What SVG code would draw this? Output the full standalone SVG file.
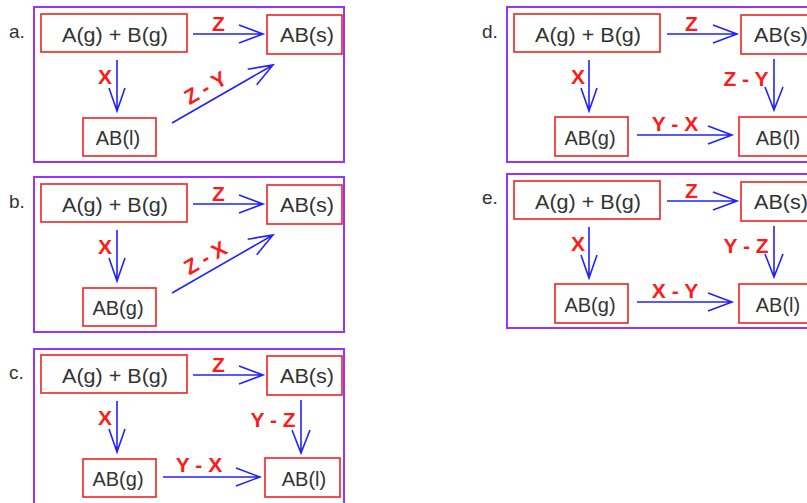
<svg xmlns="http://www.w3.org/2000/svg" width="807" height="503" viewBox="0 0 807 503">
<defs>
<style>
.frame{fill:none;stroke:#9933ff;stroke-width:2}
.box{fill:#fff;stroke:#ee2222;stroke-width:1.6}
.t{font-family:"Liberation Sans",Arial,sans-serif;font-size:20px;fill:#333;text-anchor:middle}
.pl{font-family:"Liberation Sans",Arial,sans-serif;font-size:19px;fill:#333}
.lbl{font-family:"Liberation Sans",Arial,sans-serif;font-size:21px;font-weight:bold;fill:#ff1a1a;text-anchor:middle}
.ar{fill:none;stroke:#2222ff;stroke-width:1.6;stroke-linejoin:miter}
</style>
</defs>
<rect width="807" height="503" fill="#fff"/>

<!-- Panel a -->
<g id="panel-a">
<rect class="frame" x="34" y="7" width="310" height="155"/>
<text class="pl" x="9" y="38">a.</text>
<g id="a-reactants"><rect class="box" x="41" y="14" width="146" height="38"/><text class="t" x="115" y="42" textLength="106" lengthAdjust="spacingAndGlyphs">A(g) + B(g)</text></g>
<g id="a-ABs"><rect class="box" x="267" y="15" width="75" height="39"/><text class="t" x="307" y="42" textLength="54" lengthAdjust="spacingAndGlyphs">AB(s)</text></g>
<g id="a-ABl"><rect class="box" x="83" y="118" width="73" height="38"/><text class="t" x="118" y="145">AB(l)</text></g>
<g id="a-connectors">
<path class="ar" d="M193,34H263M239,25L263,34L239,43"/>
<text class="lbl" x="218.5" y="31">Z</text>
<path class="ar" d="M117,60V111M109,88L117,111L125,88"/>
<text class="lbl" x="105" y="84">X</text>
<path class="ar" d="M172,123L273,65M256.7,84.8L273,65L247.7,69.2"/>
<text class="lbl" transform="translate(209,94) rotate(-30)">Z - Y</text>
</g>
</g>

<!-- Panel b -->
<g id="panel-b" transform="translate(0,170)">
<rect class="frame" x="34" y="7" width="310" height="155"/>
<text class="pl" x="9" y="38">b.</text>
<g id="b-reactants"><rect class="box" x="41" y="14" width="146" height="38"/><text class="t" x="115" y="42" textLength="106" lengthAdjust="spacingAndGlyphs">A(g) + B(g)</text></g>
<g id="b-ABs"><rect class="box" x="267" y="15" width="75" height="39"/><text class="t" x="307" y="42" textLength="54" lengthAdjust="spacingAndGlyphs">AB(s)</text></g>
<g id="b-ABg"><rect class="box" x="83" y="118" width="73" height="38"/><text class="t" x="118" y="145">AB(g)</text></g>
<g id="b-connectors">
<path class="ar" d="M193,34H263M239,25L263,34L239,43"/>
<text class="lbl" x="218.5" y="31">Z</text>
<path class="ar" d="M117,60V111M109,88L117,111L125,88"/>
<text class="lbl" x="105" y="84">X</text>
<path class="ar" d="M172,123L273,65M256.7,84.8L273,65L247.7,69.2"/>
<text class="lbl" transform="translate(209,94) rotate(-30)">Z - X</text>
</g>
</g>

<!-- Panel c -->
<g id="panel-c" transform="translate(0,341)">
<rect class="frame" x="34" y="8" width="310" height="160"/>
<text class="pl" x="9" y="38">c.</text>
<g id="c-reactants"><rect class="box" x="41" y="14" width="146" height="38"/><text class="t" x="115" y="42" textLength="106" lengthAdjust="spacingAndGlyphs">A(g) + B(g)</text></g>
<g id="c-ABs"><rect class="box" x="267" y="15" width="75" height="39"/><text class="t" x="307" y="42" textLength="54" lengthAdjust="spacingAndGlyphs">AB(s)</text></g>
<g id="c-ABg"><rect class="box" x="83" y="118" width="73" height="38"/><text class="t" x="118" y="145">AB(g)</text></g>
<g id="c-ABl"><rect class="box" x="265" y="117" width="75" height="39"/><text class="t" x="304" y="145">AB(l)</text></g>
<g id="c-connectors">
<path class="ar" d="M193,34H263M239,25L263,34L239,43"/>
<text class="lbl" x="218.5" y="31">Z</text>
<path class="ar" d="M117,60V111M109,88L117,111L125,88"/>
<text class="lbl" x="105" y="84">X</text>
<path class="ar" d="M301,59V112M292,89L301,112L310,89"/>
<text class="lbl" x="273" y="86">Y - Z</text>
<path class="ar" d="M163,136H260M236,127L260,136L236,145"/>
<text class="lbl" x="199" y="131">Y - X</text>
</g>
</g>

<!-- Panel d -->
<g id="panel-d" transform="translate(473,0)">
<rect class="frame" x="34" y="7" width="340" height="155"/>
<text class="pl" x="9" y="38">d.</text>
<g id="d-reactants"><rect class="box" x="41" y="14" width="146" height="38"/><text class="t" x="115" y="42" textLength="106" lengthAdjust="spacingAndGlyphs">A(g) + B(g)</text></g>
<g id="d-ABs"><rect class="box" x="268" y="15" width="75" height="39"/><text class="t" x="308" y="42" textLength="54" lengthAdjust="spacingAndGlyphs">AB(s)</text></g>
<g id="d-ABg"><rect class="box" x="82" y="117" width="73" height="39"/><text class="t" x="117" y="145">AB(g)</text></g>
<g id="d-ABl"><rect class="box" x="266" y="117" width="75" height="39"/><text class="t" x="305" y="145">AB(l)</text></g>
<g id="d-connectors">
<path class="ar" d="M194,34H264M240,25L264,34L240,43"/>
<text class="lbl" x="218.5" y="31">Z</text>
<path class="ar" d="M116,60V111M108,88L116,111L124,88"/>
<text class="lbl" x="105" y="84">X</text>
<path class="ar" d="M301,59V110M292,87L301,110L310,87"/>
<text class="lbl" x="273" y="86">Z - Y</text>
<path class="ar" d="M164,135H259M235,126L259,135L235,144"/>
<text class="lbl" x="202" y="131">Y - X</text>
</g>
</g>

<!-- Panel e -->
<g id="panel-e" transform="translate(473,167)">
<rect class="frame" x="34" y="7" width="340" height="154"/>
<text class="pl" x="9" y="37">e.</text>
<g id="e-reactants"><rect class="box" x="41" y="14" width="146" height="38"/><text class="t" x="115" y="42" textLength="106" lengthAdjust="spacingAndGlyphs">A(g) + B(g)</text></g>
<g id="e-ABs"><rect class="box" x="268" y="15" width="75" height="39"/><text class="t" x="308" y="42" textLength="54" lengthAdjust="spacingAndGlyphs">AB(s)</text></g>
<g id="e-ABg"><rect class="box" x="82" y="117" width="73" height="39"/><text class="t" x="117" y="145">AB(g)</text></g>
<g id="e-ABl"><rect class="box" x="266" y="117" width="75" height="39"/><text class="t" x="305" y="145">AB(l)</text></g>
<g id="e-connectors">
<path class="ar" d="M194,34H264M240,25L264,34L240,43"/>
<text class="lbl" x="218.5" y="31">Z</text>
<path class="ar" d="M116,60V111M108,88L116,111L124,88"/>
<text class="lbl" x="105" y="84">X</text>
<path class="ar" d="M301,59V110M292,87L301,110L310,87"/>
<text class="lbl" x="273" y="86">Y - Z</text>
<path class="ar" d="M164,135H259M235,126L259,135L235,144"/>
<text class="lbl" x="202" y="131">X - Y</text>
</g>
</g>
</svg>
